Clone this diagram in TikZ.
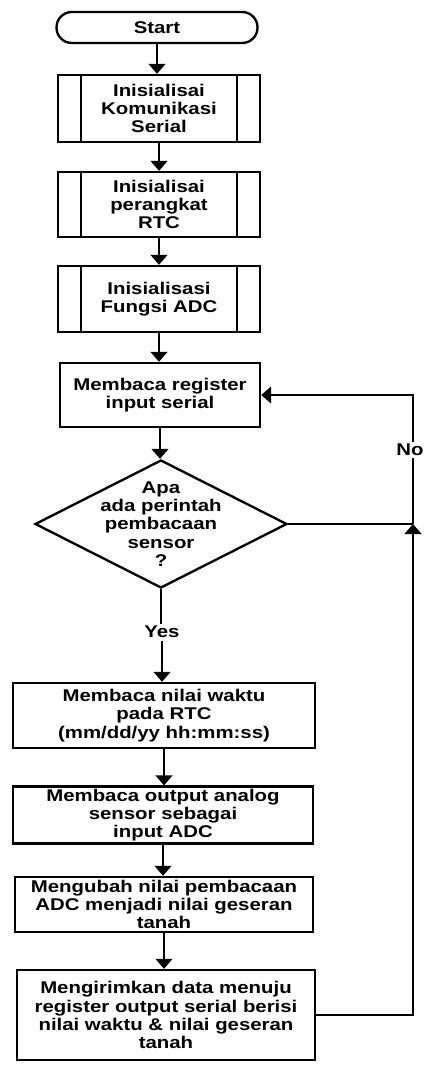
\documentclass[tikz,border=0pt]{standalone}
\usepackage{fontspec}
\newfontfamily\flowfont{Liberation Sans}[UprightFont=* Bold, FakeStretch=1.2]
\usetikzlibrary{positioning,arrows.meta,shapes,calc}

\tikzset{
  teks/.style={font=\flowfont\fontsize{14.5}{15.5}\selectfont, align=center, inner sep=2pt},
  base/.style={teks, draw, line width=2pt},
  terminal/.style={base, rectangle, rounded corners=0.46cm, minimum width=6.03cm, minimum height=0.93cm},
  subproc/.style={base, rectangle, minimum width=6.06cm},
  process/.style={base, rectangle},
  decision/.style={draw, line width=2pt, diamond, minimum width=7.56cm, minimum height=3.84cm, inner sep=0pt},
  conn/.style={line width=2pt, -{Triangle[width=0.5cm,length=0.3cm]}},
  line/.style={line width=2pt}
}

\begin{document}
\begin{tikzpicture}[x=0.03cm, y=-0.03cm]
    \useasboundingbox (0,0) rectangle (424,1065);

    % inisialisasi
    \node[terminal] (start) at (157,27.5) {Start};
    \node[subproc, minimum height=2.01cm] (komunikasi) at (159,108.5) {Inisialisai\\Komunikasi\\Serial};
    \node[subproc, minimum height=1.95cm] (rtc) at (159,204.5) {Inisialisai\\perangkat\\RTC};
    \node[subproc, minimum height=1.98cm] (adc) at (159,299) {Inisialisasi\\Fungsi ADC};
    \foreach \n in {komunikasi,rtc,adc} {
        \draw[line] ([xshift=0.72cm]\n.north west) -- ([xshift=0.72cm]\n.south west);
        \draw[line] ([xshift=-0.72cm]\n.north east) -- ([xshift=-0.72cm]\n.south east);
    }

    % loop utama
    \node[process, minimum width=6cm, minimum height=1.92cm] (baca) at (160,395) {Membaca register\\input serial};
    \node[decision] (cek) at (161,524) {};
    \node[teks] (tanya) at (cek) {Apa\\ada perintah\\pembacaan\\sensor\\?};
    \node[teks] (yes) at (162,632) {Yes};
    \node[process, minimum width=9.06cm, minimum height=1.95cm] (waktu) at (164,715.5) {Membaca nilai waktu\\pada RTC\\(mm/dd/yy hh:mm:ss)};
    \node[process, minimum width=9cm, minimum height=1.68cm] (analog) at (163,815) {Membaca output analog\\sensor sebagai\\input ADC};
    \node[process, minimum width=8.94cm, minimum height=1.65cm] (ubah) at (164,904.5) {Mengubah nilai pembacaan\\ADC menjadi nilai geseran\\tanah};
    \node[process, minimum width=8.94cm, minimum height=2.7cm] (kirim) at (166,1015) {Mengirimkan data menuju\\register output serial berisi\\nilai waktu \& nilai geseran\\tanah};

    \coordinate (sudut) at (413,524);
    \coordinate (atas) at (413,395);
    \coordinate (bawah) at (413,1015);

    % panah
    \foreach \a/\b in {start/komunikasi, komunikasi/rtc, rtc/adc, adc/baca, baca/cek, waktu/analog, analog/ubah, ubah/kirim}
        \draw[conn] (\a.south) -- (\a.south |- \b.north);
    \draw[line] (cek.south) -- (cek.south |- yes.north);
    \draw[conn] (yes.south) -- (yes.south |- waktu.north);

    \draw[line] (cek.east) -- (sudut);
    \draw[conn] (sudut) -- (atas) -- (baca.east);
    \draw[conn] (kirim.east) -- (bawah) -- (sudut);
    \node[teks, fill=white] (no) at (410,450) {No};
\end{tikzpicture}
\end{document}
